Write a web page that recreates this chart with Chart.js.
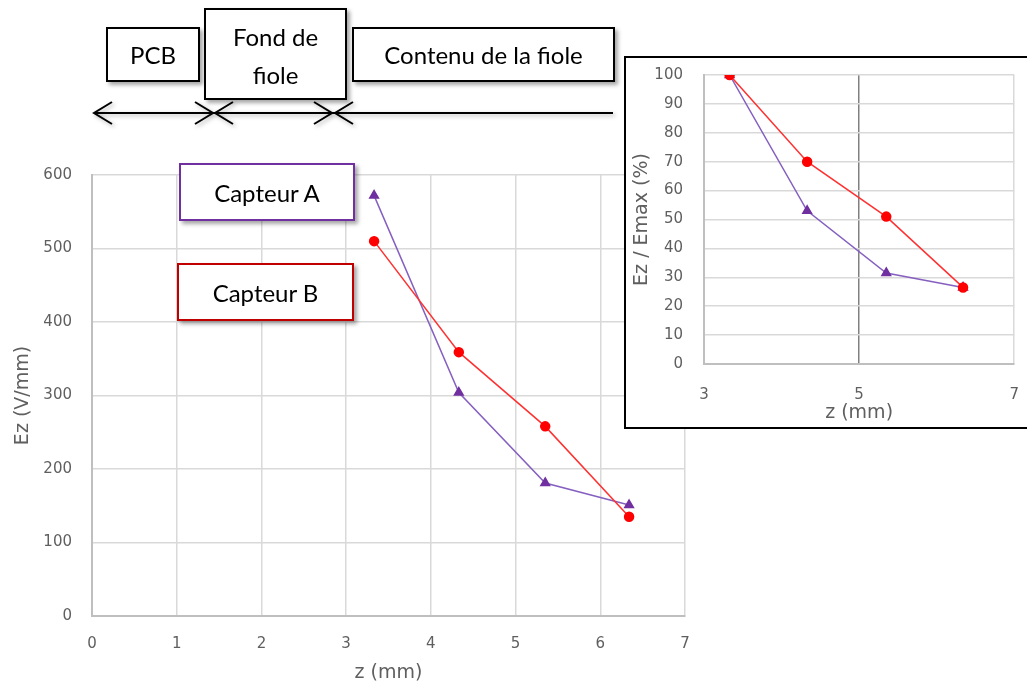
<!DOCTYPE html>
<html>
<head>
<meta charset="utf-8">
<script src="https://cdn.jsdelivr.net/npm/chart.js@4/dist/chart.umd.min.js"></script>
<style>
  html, body { margin: 0; padding: 0; background: #fff; overflow: hidden; }
  body { width: 1027px; height: 684px; position: relative; font-family: Lato, "Open Sans", sans-serif; }
  .box {
    position: absolute; box-sizing: border-box; background: #fff;
    border: 2px solid #000; box-shadow: 3px 3px 4px rgba(0,0,0,0.35);
    font-size: 24px; color: #000; text-align: center;
    display: flex; align-items: center; justify-content: center;
  }
  #mainChart { position: absolute; left: 0; top: 0; }
  #insetBox {
    position: absolute; left: 624px; top: 56px; width: 420px; height: 373px; overflow: hidden;
    box-sizing: border-box; border: 2px solid #000; background: #fff; z-index: 2;
  }
  #insetChart { position: absolute; left: 0; top: -13px; }
  #arrows { position: absolute; left: 0; top: 0; z-index: 3; filter: drop-shadow(2px 2px 2px rgba(0,0,0,0.3)); }
</style>
</head>
<body>

<canvas id="mainChart" width="1027" height="684"></canvas>

<div id="insetBox"><canvas id="insetChart" width="415" height="382"></canvas></div>

<div class="box" style="left:106px; top:27px; width:94px; height:55px;">PCB</div>
<div class="box" style="left:204px; top:8px; width:143px; height:92px; line-height:38px; flex-direction:column; padding-top:3px;"><span>Fond de</span><span>fiole</span></div>
<div class="box" style="left:352px; top:27px; width:263px; height:55px;">Contenu de la fiole</div>

<div class="box" style="left:179px; top:163px; width:176px; height:58px; border-color:#7030A0;">Capteur A</div>
<div class="box" style="left:177px; top:263px; width:177px; height:58px; border-color:#C00000;">Capteur B</div>

<svg id="arrows" width="1027" height="140">
  <g fill="none" stroke="#000" stroke-width="2">
    <line x1="94" y1="113" x2="613" y2="113"/>
    <polyline points="112,102 94,113 112,124"/>
    <polyline points="195,102 213,113 195,124"/>
    <polyline points="233,102 215,113 233,124"/>
    <polyline points="314,102 332,113 314,124"/>
    <polyline points="353,102 335,113 353,124"/>
  </g>
</svg>

<script>
// positions mesurees (mm)
var zPos = [3.33, 4.33, 5.35, 6.34];
// Ez en V/mm
var capteurA = [572, 304, 181, 151];
var capteurB = [510, 359, 258, 135];
// Ez / Emax en %
var capteurAPct = [100, 53, 31.5, 26.5];
var capteurBPct = [100, 70, 51, 26.5];

var tickFont = { family: "DejaVu Sans", size: 15 };
var titleFont = { family: "DejaVu Sans", size: 19 };
var textColor = "#5f5f5f";

function toPoints(xs, ys) {
  var pts = [];
  xs.forEach(function(x, i) {
    pts.push({ x: x, y: ys[i] });
  });
  return pts;
}

function series(label, data, color, lineColor, style, radius, order) {
  return {
    label: label,
    data: data,
    showLine: true,
    borderColor: lineColor,
    borderWidth: 1.5,
    backgroundColor: color,
    pointBorderColor: color,
    pointBackgroundColor: color,
    pointStyle: style,
    pointRadius: radius,
    order: order
  };
}

Chart.defaults.animation = false;

new Chart(document.getElementById("mainChart").getContext("2d"), {
  type: "scatter",
  data: {
    datasets: [
      series("Capteur A", toPoints(zPos, capteurA), "#7030A0", "#8560c0", "triangle", 5, 1),
      series("Capteur B", toPoints(zPos, capteurB), "#FF0000", "#ff3030", "circle", 4.5, 0)
    ]
  },
  options: {
    responsive: false,
    layout: { padding: { top: 175, right: 342, bottom: 0, left: 0 } },
    plugins: { legend: { display: false }, tooltip: { enabled: false } },
    scales: {
      x: {
        type: "linear", min: 0, max: 7,
        ticks: { stepSize: 1, font: tickFont, color: textColor, padding: 19, maxRotation: 0 },
        grid: { color: "#d9d9d9", lineWidth: 1.5, drawTicks: false },
        border: { color: "#bfbfbf", width: 2 },
        title: { display: true, text: "z (mm)", font: titleFont, color: textColor, padding: { top: 0, bottom: 0 } },
        afterFit: function(scale) { scale.height = 68; }
      },
      y: {
        type: "linear", min: 0, max: 600,
        ticks: { stepSize: 100, font: tickFont, color: textColor, padding: 20 },
        grid: { color: "#d9d9d9", lineWidth: 1.5, drawTicks: false },
        border: { color: "#bfbfbf", width: 2 },
        title: { display: true, text: "Ez (V/mm)", font: titleFont, color: textColor, padding: { top: 12, bottom: 0 } },
        afterFit: function(scale) { scale.width = 92; }
      }
    }
  }
});

new Chart(document.getElementById("insetChart").getContext("2d"), {
  type: "scatter",
  data: {
    datasets: [
      series("Capteur A", toPoints(zPos, capteurAPct), "#7030A0", "#8560c0", "triangle", 5, 1),
      series("Capteur B", toPoints(zPos, capteurBPct), "#FF0000", "#ff3030", "circle", 4.5, 0)
    ]
  },
  options: {
    responsive: false,
    layout: { padding: 0 },
    plugins: { legend: { display: false }, tooltip: { enabled: false } },
    scales: {
      x: {
        type: "linear", min: 3, max: 7,
        ticks: { stepSize: 2, font: tickFont, color: textColor, padding: 22, maxRotation: 0 },
        grid: {
          color: function(c) { return c.tick && c.tick.value === 5 ? "#808080" : "#d9d9d9"; },
          lineWidth: 1.5, drawTicks: false
        },
        border: { color: "#bfbfbf", width: 2 },
        title: { display: true, text: "z (mm)", font: titleFont, color: textColor, padding: { top: 0, bottom: 3 } },
        afterFit: function(scale) { scale.height = 63; }
      },
      y: {
        type: "linear", min: 0, max: 100,
        ticks: { stepSize: 10, font: tickFont, color: textColor, padding: 21 },
        grid: { color: "#d9d9d9", lineWidth: 1.5, drawTicks: false },
        border: { color: "#bfbfbf", width: 2 },
        title: { display: true, text: "Ez / Emax (%)", font: titleFont, color: textColor, padding: { top: 5, bottom: 0 } },
        afterFit: function(scale) { scale.width = 78; }
      }
    }
  }
});
</script>
</body>
</html>
